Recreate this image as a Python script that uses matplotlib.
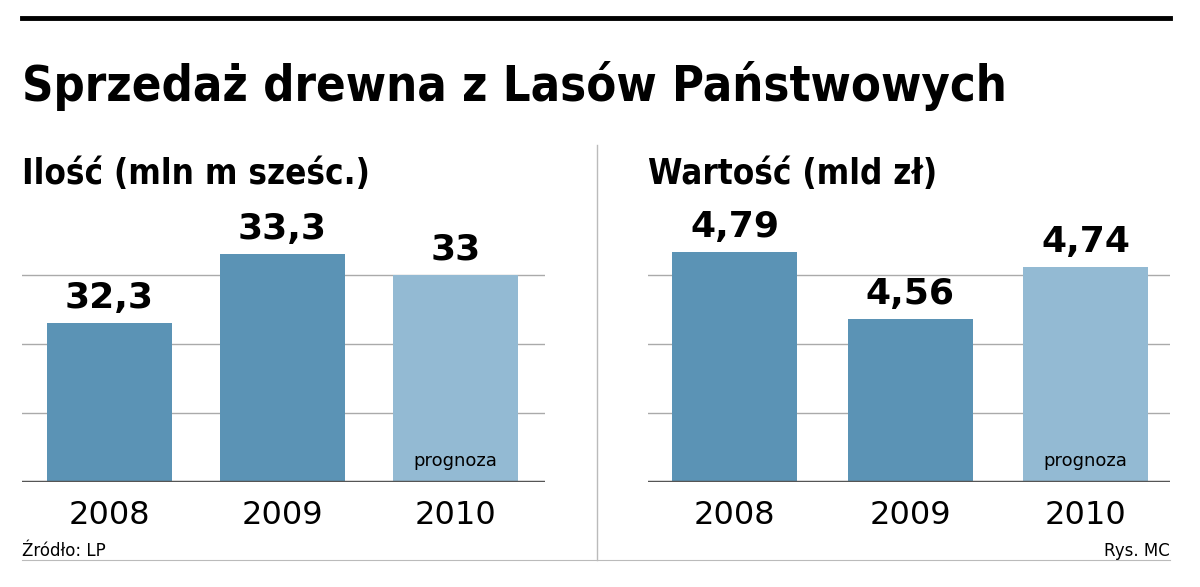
import matplotlib
matplotlib.use("Agg")
import matplotlib.pyplot as plt
from matplotlib.lines import Line2D

years = ["2008", "2009", "2010"]
ilosc = [32.3, 33.3, 33.0]
ilosc_labels = ["32,3", "33,3", "33"]
wartosc = [4.79, 4.56, 4.74]
wartosc_labels = ["4,79", "4,56", "4,74"]
title = "Sprzedaż drewna z Lasów Państwowych"
sub_left = "Ilość (mln m sześc.)"
sub_right = "Wartość (mld zł)"

W, H = 1200, 587
fig = plt.figure(figsize=(12, 5.87), dpi=100)
fig.patch.set_facecolor("white")

def fx(x): return x / W
def fy(y): return 1 - y / H

dark = "#5b93b5"
light = "#93bad3"
cols = [dark, dark, light]

fig.add_artist(Line2D([fx(22), fx(1170)], [fy(18), fy(18)], color="black", lw=3.5))
fig.add_artist(Line2D([fx(597), fx(597)], [fy(145), fy(560)], color="#bbbbbb", lw=1))
fig.add_artist(Line2D([fx(22), fx(1170)], [fy(560), fy(560)], color="#bbbbbb", lw=0.8))

fig.text(fx(22), fy(101), title, fontsize=35, fontweight="bold", fontstretch="condensed",
         family="DejaVu Sans", va="baseline", ha="left")
fig.text(fx(22), fy(184), sub_left, fontsize=25, fontweight="bold", fontstretch="condensed",
         family="DejaVu Sans", va="baseline")
fig.text(fx(648), fy(184), sub_right, fontsize=25, fontweight="bold", fontstretch="condensed",
         family="DejaVu Sans", va="baseline")
fig.text(fx(22), fy(556), "Źródło: LP", fontsize=12, va="baseline")
fig.text(fx(1170), fy(556), "Rys. MC", fontsize=12, va="baseline", ha="right")

top_px, base_px = 200, 482
frac_grid = [(base_px - p) / (base_px - top_px) for p in (413, 344, 275)]

def panel(x0, x1, centers_px, vals, labels, base, unit_px):
    ax = fig.add_axes([fx(x0), fy(base_px), fx(x1 - x0), (base_px - top_px) / H])
    ymax = base + (base_px - top_px) / unit_px
    spacing = (centers_px[1] - centers_px[0])
    xmin = -(centers_px[0] - x0) / spacing
    xmax = xmin + (x1 - x0) / spacing
    ax.set_xlim(xmin, xmax)
    ax.set_ylim(base, ymax)
    for f in frac_grid:
        ax.axhline(base + f * (ymax - base), color="#aaaaaa", lw=1, zorder=0)
    xs = range(len(vals))
    ax.bar(xs, [v - base for v in vals], bottom=base, width=125 / spacing, color=cols, zorder=2)
    for x, v, l in zip(xs, vals, labels):
        ax.text(x, v + 8 / unit_px, l, ha="center", va="bottom", fontsize=26, fontweight="bold")
    ax.text(2, base + 12 / unit_px, "prognoza", ha="center", va="bottom", fontsize=13)
    ax.axhline(base, color="#555555", lw=2.5, zorder=3)
    for x, yr in zip(xs, years):
        ax.text(x, base - 42 / unit_px, yr, ha="center", va="baseline", fontsize=23)
    ax.axis("off")

panel(22, 545, [109.5, 282.5, 457.5], ilosc, ilosc_labels, 30.0, 69.0)
panel(648, 1170, [734.5, 910, 1084], wartosc, wartosc_labels, 4.0, 291.0)

fig.savefig("out.png", dpi=100, facecolor="white")
